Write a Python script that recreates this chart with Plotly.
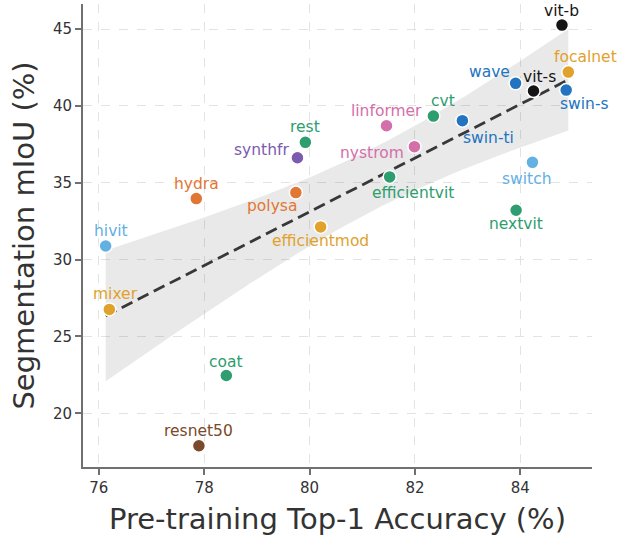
import numpy as np
import plotly.graph_objects as go

# ---- data ----
models = ["vit-b", "focalnet", "swin-s", "vit-s", "wave", "swin-ti", "cvt",
          "linformer", "nystrom", "efficientvit", "switch", "nextvit",
          "efficientmod", "rest", "synthfr", "polysa", "hydra", "hivit",
          "mixer", "coat", "resnet50"]
top1_acc = [84.79, 84.91, 84.87, 84.25, 83.91, 82.90, 82.35,
            81.46, 81.99, 81.52, 84.23, 83.92,
            80.21, 79.92, 79.77, 79.74, 77.85, 76.13,
            76.20, 78.42, 77.90]
seg_miou = [45.26, 42.20, 41.03, 40.97, 41.47, 39.04, 39.34,
            38.71, 37.35, 35.38, 36.33, 33.21,
            32.13, 37.63, 36.63, 34.36, 33.97, 30.89,
            26.76, 22.46, 17.89]
x_ticks = [76, 78, 80, 82, 84]
y_ticks = [20, 25, 30, 35, 40, 45]

# ---- styles ----
colors = {
    "vit-b": "#151515", "vit-s": "#151515",
    "focalnet": "#E1A22C", "mixer": "#E1A22C", "efficientmod": "#E1A22C",
    "swin-s": "#2374C0", "wave": "#2374C0", "swin-ti": "#2374C0",
    "cvt": "#2E9D6F", "rest": "#2E9D6F", "efficientvit": "#2E9D6F",
    "nextvit": "#2E9D6F", "coat": "#2E9D6F",
    "linformer": "#D46FAA", "nystrom": "#D46FAA",
    "switch": "#63B0E2", "hivit": "#63B0E2",
    "synthfr": "#7B5AB0",
    "polysa": "#E27633", "hydra": "#E27633",
    "resnet50": "#7A4A2A",
}
# label offsets in pixels (dx right, dy down) and anchor
label_pos = {
    "vit-b": (0, -14, "center"), "focalnet": (17, -15, "center"),
    "swin-s": (18, 14, "center"), "vit-s": (6, -14, "center"),
    "wave": (-26, -11, "center"), "swin-ti": (26, 17, "center"),
    "cvt": (10, -15, "center"), "linformer": (0, -15, "center"),
    "nystrom": (-8, 6, "right"), "efficientvit": (23, 16, "center"),
    "switch": (-6, 17, "center"), "nextvit": (0, 14, "center"),
    "efficientmod": (0, 14, "center"), "rest": (0, -15, "center"),
    "synthfr": (-6, -8, "right"), "polysa": (-24, 13, "center"),
    "hydra": (0, -15, "center"), "hivit": (5, -15, "center"),
    "mixer": (6, -15, "center"), "coat": (0, -14, "center"),
    "resnet50": (0, -15, "center"),
}
FONT = "DejaVu Sans"

x = np.array(top1_acc)
y = np.array(seg_miou)
n = len(x)
b1, b0 = np.polyfit(x, y, 1)
xs = np.linspace(x.min(), x.max(), 100)
ys = b0 + b1 * xs
resid = y - (b0 + b1 * x)
s = np.sqrt(np.sum(resid ** 2) / (n - 2))
sxx = np.sum((x - x.mean()) ** 2)
tval = 2.093  # t(0.975, 19)
se = s * np.sqrt(1.0 / n + (xs - x.mean()) ** 2 / sxx)
lo, hi = ys - tval * se, ys + tval * se

fig = go.Figure()
fig.add_trace(go.Scatter(
    x=np.concatenate([xs, xs[::-1]]), y=np.concatenate([hi, lo[::-1]]),
    fill="toself", fillcolor="rgba(70,70,70,0.12)", line=dict(width=0),
    mode="lines", hoverinfo="skip", showlegend=False))
fig.add_trace(go.Scatter(
    x=xs, y=ys, mode="lines", line=dict(color="#383838", width=2.8, dash="12px,6px"),
    showlegend=False, hoverinfo="skip"))
fig.add_trace(go.Scatter(
    x=top1_acc, y=seg_miou, mode="markers", text=models,
    marker=dict(size=13, color=[colors[m] for m in models],
                line=dict(color="white", width=1.5)),
    showlegend=False))

for m, xv, yv in zip(models, top1_acc, seg_miou):
    dx, dy, anc = label_pos[m]
    fig.add_annotation(x=xv, y=yv, text=m, showarrow=False,
                       xshift=dx, yshift=-dy, xanchor=anc, yanchor="middle",
                       font=dict(family=FONT, size=15.5, color=colors[m]))

axis_common = dict(
    showline=True, linecolor="#707070", linewidth=2,
    ticks="outside", ticklen=6, tickwidth=2, tickcolor="#707070",
    tickfont=dict(family=FONT, size=15, color="#333333"),
    showgrid=True, gridcolor="#E3E3E3", gridwidth=1, griddash="dash",
    zeroline=False, mirror=False,
)
fig.update_xaxes(range=[75.70, 85.36], tickvals=x_ticks,
                 title=dict(text="Pre-training Top-1 Accuracy (%)",
                            font=dict(family=FONT, size=29, color="#333333"),
                            standoff=13),
                 **axis_common)
fig.update_yaxes(range=[16.51, 46.63], tickvals=y_ticks,
                 title=dict(text="Segmentation mIoU (%)",
                            font=dict(family=FONT, size=29, color="#333333"),
                            standoff=10),
                 **axis_common)
fig.update_layout(
    width=623, height=540,
    margin=dict(l=83, r=31, t=4, b=73),
    plot_bgcolor="white", paper_bgcolor="white",
    font=dict(family=FONT),
)
fig.write_html("out.html")
